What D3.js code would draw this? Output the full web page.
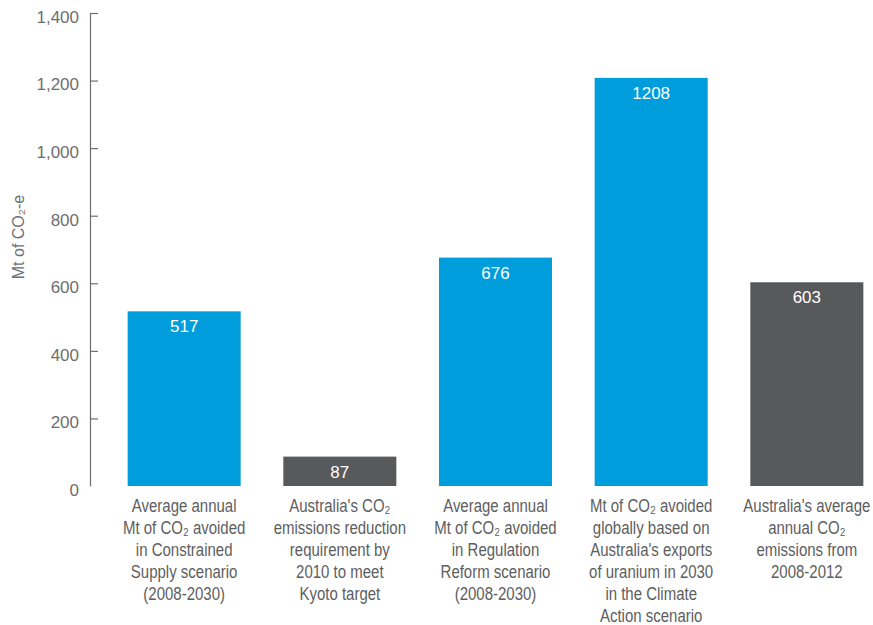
<!DOCTYPE html>
<html>
<head>
<meta charset="utf-8">
<script src="https://cdn.jsdelivr.net/npm/d3@7/dist/d3.min.js"></script>
<style>
  html, body { margin: 0; padding: 0; background: #ffffff; }
  svg { display: block; }
</style>
</head>
<body>
<svg id="chart" width="873" height="625"></svg>
<script>
// Category labels, one array of lines per bar
const categoryLines = [
  ["Average annual", "Mt of CO₂ avoided", "in Constrained", "Supply scenario", "(2008-2030)"],
  ["Australia's CO₂", "emissions reduction", "requirement by", "2010 to meet", "Kyoto target"],
  ["Average annual", "Mt of CO₂ avoided", "in Regulation", "Reform scenario", "(2008-2030)"],
  ["Mt of CO₂ avoided", "globally based on", "Australia's exports", "of uranium in 2030", "in the Climate", "Action scenario"],
  ["Australia's average", "annual CO₂", "emissions from", "2008-2012"]
];
const values = [517, 87, 676, 1208, 603];
const kinds = ["avoided", "emissions", "avoided", "avoided", "emissions"];
const yTicks = [0, 200, 400, 600, 800, 1000, 1200, 1400];
const yTitle = "Mt of CO₂-e";

const colors = { avoided: "#009ddc", emissions: "#58595b" };
const textGray = "#5d5e60";
const axisGray = "#6d6e71";
const fontFamily = "'Liberation Sans', Arial, sans-serif";
const narrow = 0.81; // horizontal squeeze for the condensed category labels

const svg = d3.select("#chart");

const x = d3.scaleBand()
  .domain(d3.range(values.length))
  .range([85, 906])
  .padding(0.274);

const y = d3.scaleLinear()
  .domain([0, 1400])
  .range([486, 13]);

const axisX = 90;

// Y axis: ticks point into the plot, labels sit to the left
const yAxis = d3.axisLeft(y)
  .tickValues(yTicks)
  .tickFormat(d3.format(","))
  .tickSizeInner(-8)
  .tickSizeOuter(0)
  .tickPadding(11);

const gy = svg.append("g")
  .attr("transform", `translate(${axisX},0)`)
  .call(yAxis);

gy.select(".domain").attr("stroke", axisGray).attr("stroke-width", 1.2);
gy.selectAll(".tick line")
  .attr("stroke", axisGray)
  .attr("stroke-width", 1.2)
  .attr("opacity", d => d === 0 ? 0 : 1);
gy.selectAll(".tick text")
  .attr("fill", axisGray)
  .attr("font-family", fontFamily)
  .attr("font-size", 17)
  .attr("dy", "0.55em");

// Y axis title
svg.append("text")
  .attr("transform", `translate(24,237) rotate(-90)`)
  .attr("text-anchor", "middle")
  .attr("fill", axisGray)
  .attr("font-family", fontFamily)
  .attr("font-size", 16)
  .text(yTitle);

// Bars
svg.append("g")
  .selectAll("rect")
  .data(values)
  .join("rect")
  .attr("x", (d, i) => x(i))
  .attr("y", d => y(d))
  .attr("width", x.bandwidth())
  .attr("height", d => y(0) - y(d))
  .attr("fill", (d, i) => colors[kinds[i]]);

// Value labels inside the top of each bar
svg.append("g")
  .selectAll("text")
  .data(values)
  .join("text")
  .attr("x", (d, i) => x(i) + x.bandwidth() / 2)
  .attr("y", d => y(d) + 21)
  .attr("text-anchor", "middle")
  .attr("fill", "#ffffff")
  .attr("font-family", fontFamily)
  .attr("font-size", 17)
  .text(d => d);

// Category labels under the bars, set in a condensed width
const labels = svg.append("g")
  .selectAll("text")
  .data(categoryLines)
  .join("text")
  .attr("transform", (d, i) => `translate(${x(i) + x.bandwidth() / 2},0) scale(${narrow},1)`)
  .attr("text-anchor", "middle")
  .attr("fill", textGray)
  .attr("font-family", fontFamily)
  .attr("font-size", 18.5);

labels.selectAll("tspan")
  .data(lines => lines)
  .join("tspan")
  .attr("x", 0)
  .attr("y", (d, j) => 512 + j * 22)
  .text(d => d);
</script>
</body>
</html>
